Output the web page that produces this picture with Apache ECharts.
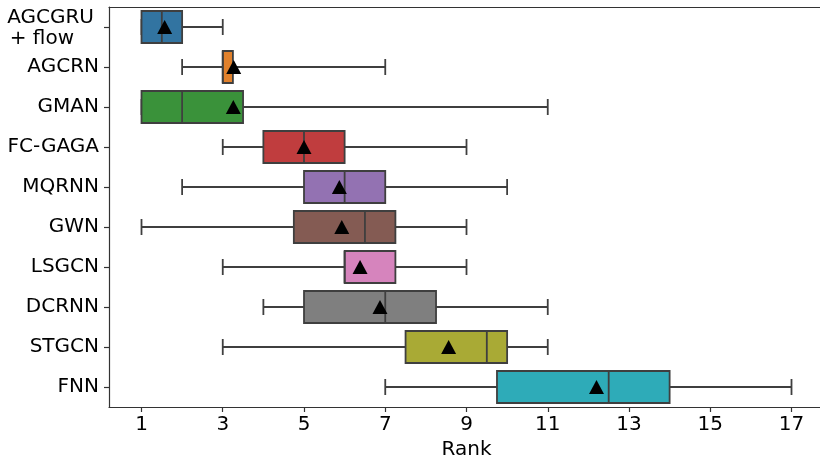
<!DOCTYPE html>
<html>
<head>
<meta charset="utf-8">
<script src="https://cdn.jsdelivr.net/npm/echarts@6/dist/echarts.min.js"></script>
<style>html,body{margin:0;padding:0;background:#fff;}#c{width:820px;height:458px;}</style>
</head>
<body>
<div id="c"></div>
<script>
var categories = ['AGCGRU + flow', 'AGCRN', 'GMAN', 'FC-GAGA', 'MQRNN', 'GWN', 'LSGCN', 'DCRNN', 'STGCN', 'FNN'];
var mins    = [1, 2, 1, 3, 2, 1, 3, 4, 3, 7];
var q1s     = [1, 3, 1, 4, 5, 4.75, 6, 5, 7.5, 9.75];
var medians = [1.5, 3, 2, 5, 6, 6.5, 6, 7, 9.5, 12.5];
var q3s     = [2, 3.25, 3.5, 6, 7, 7.25, 7.25, 8.25, 10, 14];
var maxs    = [3, 7, 11, 9, 10, 9, 9, 11, 11, 17];
var means   = [1.57, 3.27, 3.26, 5.0, 5.87, 5.93, 6.38, 6.87, 8.56, 12.2];
var xTicks  = [1, 3, 5, 7, 9, 11, 13, 15, 17];
var colors  = ['#3274a1', '#e1812c', '#3a923a', '#c03d3e', '#9372b2', '#845b53', '#d684bd', '#7f7f7f', '#a9aa35', '#2eabb8'];

var boxData = categories.map(function (c, i) {
  return [i, mins[i], q1s[i], medians[i], q3s[i], maxs[i]];
});
var meanData = categories.map(function (c, i) { return [means[i], i]; });

var edge = '#3f3f3f';
var lw = 1.8;
var FONT = 'DejaVu Sans';
var FS = 20;

var chart = echarts.init(document.getElementById('c'), null, {renderer: 'canvas'});
chart.setOption({
  animation: false,
  grid: {left: 109, right: -4, top: 7, bottom: 51, containLabel: false, outerBoundsMode: 'none'},
  xAxis: [{
    type: 'value', min: 0.2, max: 17.8,
    name: 'Rank', nameLocation: 'middle', nameGap: 32,
    nameTextStyle: {fontFamily: FONT, fontSize: FS, color: '#000'},
    axisLine: {show: true, lineStyle: {color: '#333', width: 1.2}},
    axisTick: {show: true, length: 5, customValues: xTicks, lineStyle: {color: '#333', width: 1.2}},
    axisLabel: {customValues: xTicks, fontFamily: FONT, fontSize: FS, color: '#000', margin: 8},
    splitLine: {show: false}
  }, {
    type: 'value', position: 'top', min: 0.2, max: 17.8,
    axisLine: {show: true, onZero: false, lineStyle: {color: '#333', width: 1.2}},
    axisTick: {show: false}, axisLabel: {show: false}, splitLine: {show: false}
  }],
  yAxis: {
    type: 'category', data: categories, inverse: true,
    axisLine: {show: true, lineStyle: {color: '#333', width: 1.2}},
    axisTick: {show: true, alignWithLabel: true, length: 5, lineStyle: {color: '#333', width: 1.2}},
    axisLabel: {
      fontFamily: FONT, fontSize: FS, color: '#000', margin: 10,
      formatter: function (v) {
        if (v === 'AGCGRU + flow') return '{a|AGCGRU}\n{b|+ flow}';
        return v;
      },
      rich: {
        a: {fontFamily: FONT, fontSize: FS, color: '#000', lineHeight: 23, padding: [4, 5, 0, 0]},
        b: {fontFamily: FONT, fontSize: FS, color: '#000', lineHeight: 23, padding: [0, 25, 0, 0]}
      }
    },
    splitLine: {show: false}
  },
  series: [{
    type: 'custom',
    data: boxData,
    encode: {x: [1, 2, 3, 4, 5], y: 0},
    renderItem: function (params, api) {
      var ci = api.value(0);
      var pMin = api.coord([api.value(1), ci]);
      var pQ1 = api.coord([api.value(2), ci]);
      var pMed = api.coord([api.value(3), ci]);
      var pQ3 = api.coord([api.value(4), ci]);
      var pMax = api.coord([api.value(5), ci]);
      var band = api.size([0, 1])[1];
      var hb = band * 0.4, hc = band * 0.2;
      var y = pMed[1];
      var ls = {stroke: edge, lineWidth: lw};
      return {
        type: 'group',
        children: [
          {type: 'line', shape: {x1: pMin[0], y1: y, x2: pQ1[0], y2: y}, style: ls},
          {type: 'line', shape: {x1: pQ3[0], y1: y, x2: pMax[0], y2: y}, style: ls},
          {type: 'line', shape: {x1: pMin[0], y1: y - hc, x2: pMin[0], y2: y + hc}, style: ls},
          {type: 'line', shape: {x1: pMax[0], y1: y - hc, x2: pMax[0], y2: y + hc}, style: ls},
          {type: 'rect', shape: {x: pQ1[0], y: y - hb, width: pQ3[0] - pQ1[0], height: 2 * hb},
            style: {fill: colors[ci], stroke: edge, lineWidth: lw}},
          {type: 'line', shape: {x1: pMed[0], y1: y - hb, x2: pMed[0], y2: y + hb}, style: ls}
        ]
      };
    }
  }, {
    type: 'scatter',
    data: meanData,
    symbol: 'triangle',
    symbolSize: [15, 14],
    itemStyle: {color: '#000', opacity: 1},
    z: 5
  }]
});
</script>
</body>
</html>
